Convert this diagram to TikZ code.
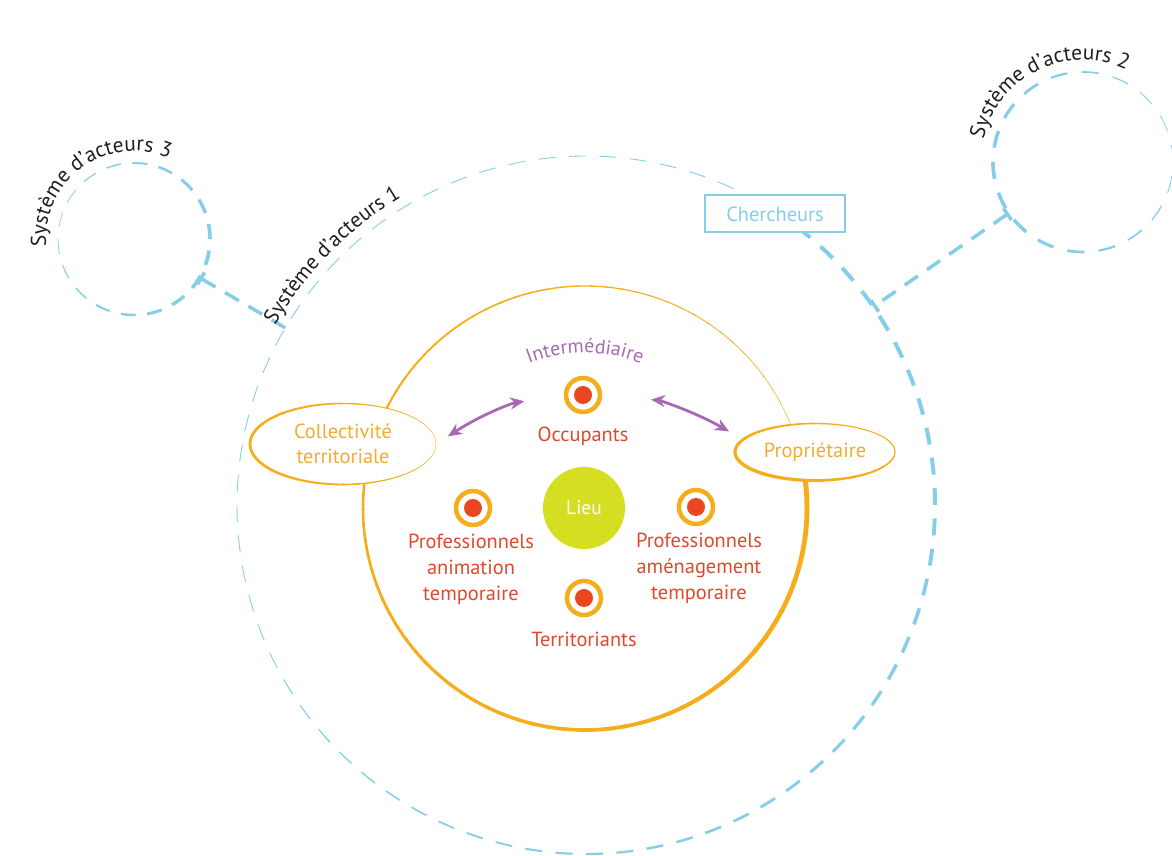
\documentclass[tikz,border=0pt]{standalone}
\usepackage{fontspec}
\setmainfont{PT Sans}
\usetikzlibrary{arrows.meta,positioning,calc,shapes.geometric,decorations.text}
\definecolor{jaune}{HTML}{F6AD1B}
\definecolor{jauneclair}{HTML}{F2AC2E}
\definecolor{rouge}{HTML}{DC4A2B}
\definecolor{point}{HTML}{E8471F}
\definecolor{violet}{HTML}{A56AB0}
\definecolor{bleu}{HTML}{86CDEA}
\definecolor{lime}{HTML}{D6DE21}
\definecolor{noir}{HTML}{1E1E1C}

\begin{document}
\begin{tikzpicture}[x=1bp,y=1bp,
	cible/.style={circle,draw=jaune,line width=4.5bp,fill=white,minimum size=34bp,inner sep=0pt,
		path picture={\fill[point] (path picture bounding box.center) circle (9bp);}},
	acteur/.style={text=rouge,font=\fontsize{20.5}{26}\selectfont,align=center,inner sep=0pt},
	bulle/.style={ellipse,fill=white,text=jauneclair,font=\fontsize{20.5}{25}\selectfont,align=center,inner sep=0pt},
	lien/.style={bleu,line width=3.5bp,dash pattern=on 16bp off 11bp},
	barre/.tip={Bar[width=14bp,line width=3.5bp]},
	fleche/.style={violet,line width=2.8bp,{Stealth[length=14bp,width=12bp]}-{Stealth[length=14bp,width=12bp]}}]
			\useasboundingbox (0,0) rectangle (1172,856);
			\coordinate (grand) at (586,351);
			\coordinate (milieu) at (585,348);
			\coordinate (c3) at (134,617);
			\coordinate (c2) at (1083,694);

			\foreach \a in {0,10,...,350}{
				\pgfmathsetmacro\w{\a<60 ? 4 : (\a<200 ? 0.9 : 0.9+3.1*(\a-200)/160)}
				\draw[bleu,line width=\w bp,dash pattern=on 17bp off 13.46bp] (grand) ++(\a:349) arc[start angle=\a,delta angle=10,radius=349];
			}
			\foreach \a in {0,20,...,340}{
				\pgfmathsetmacro\w{0.7+1.5*(1+cos(\a+20))}
				\draw[bleu,line width=\w bp,dash pattern=on 15bp off 11.53bp] (c3) ++(\a:76) arc[start angle=\a,delta angle=20,radius=76];
				\pgfmathsetmacro\w{0.7+1.5*(1+cos(\a-190))}
				\draw[bleu,line width=\w bp,dash pattern=on 17bp off 14.4bp] (c2) ++(\a:90) arc[start angle=\a,delta angle=20,radius=90];
			}

			\node[draw=bleu,fill=white,line width=2bp,text=bleu,font=\fontsize{20.5}{25}\selectfont,minimum width=140bp,minimum height=37bp] (cher) at (775,642) {Chercheurs};
			\coordinate (p3) at ($(c3)+(-30.5:76)$);
			\coordinate (q3) at ($(grand)+(149.5:349)$);
			\coordinate (p2) at ($(c2)+(214.6:90)$);
			\coordinate (q2) at ($(grand)+(34.6:349)$);
			\draw[lien,barre-] (p3) -- (q3);
			\draw[lien,barre-barre] (p2) -- (q2);

			\foreach \a in {20,24,...,376}{
				\pgfmathsetmacro\w{0.4+4.8*(\a-20)/360}
				\draw[jaune,line width=\w bp] (milieu) ++(\a:222) arc[start angle=\a,delta angle=4.6,radius=222];
			}

			\node[bulle,minimum width=186bp,minimum height=81bp] (coll) at (343,412) {Collectivité\\territoriale};
			\node[bulle,minimum width=160bp,minimum height=57bp] (prop) at (815,404) {Propriétaire};
			\foreach \a in {0,10,...,350}{
				\pgfmathsetmacro\w{0.4+1.2*(1-cos(\a))}
				\draw[jaune,line width=\w bp] (coll.center) ++(\a:93 and 40.5) arc[start angle=\a,delta angle=10.5,x radius=93,y radius=40.5];
				\pgfmathsetmacro\w{1.0+1.2*(1+cos(\a-210))}
				\draw[jaune,line width=\w bp] (prop.center) ++(\a:80 and 28.5) arc[start angle=\a,delta angle=10.5,x radius=80,y radius=28.5];
			}

			\node[circle,fill=lime,minimum size=82bp,text=white,font=\fontsize{19.5}{22}\selectfont] (lieu) at (584,348) {Lieu};
			\node[cible] (occ) at (583,461) {};
			\node[cible] (anim) at (473,348) {};
			\node[cible] (amen) at (696,349) {};
			\node[cible] (terr) at (584,258) {};
			\node[acteur,below=13bp of occ] (occL) {Occupants};
			\node[acteur,below=7bp of anim,xshift=-2bp] (animL) {Professionnels\\animation\\temporaire};
			\node[acteur,below=7bp of amen,xshift=3bp] (amenL) {Professionnels\\aménagement\\temporaire};
			\node[acteur,below=15bp of terr] (terrL) {Territoriants};

			\draw[fleche,shorten <=14bp,shorten >=40bp] (coll.east) to[bend left=12] (occ.west);
			\draw[fleche,shorten <=49bp,shorten >=16bp] (occ.east) to[bend left=12] (prop.170);

			\path[decorate,decoration={text along path,text align=center,
				text={|\fontsize{20}{22}\selectfont\color{violet}|Intermédiaire}}]
				(milieu) ++(130:155) arc[start angle=130,end angle=50,radius=155];
			\path[decorate,decoration={text along path,
				text={|\fontsize{21.5}{24}\selectfont\color{noir}|Système d'acteurs 1}}]
				(grand) ++(150:359) arc[start angle=150,end angle=100,radius=359];
			\path[decorate,decoration={text along path,
				text={|\fontsize{21.5}{24}\selectfont\color{noir}|Système d'acteurs 3}}]
				(c3) ++(185:88) arc[start angle=185,end angle=0,radius=88];
			\path[decorate,decoration={text along path,
				text={|\fontsize{21.5}{24}\selectfont\color{noir}|Système d'acteurs 2}}]
				(c2) ++(167:102) arc[start angle=167,end angle=10,radius=102];
		\end{tikzpicture}
\end{document}
